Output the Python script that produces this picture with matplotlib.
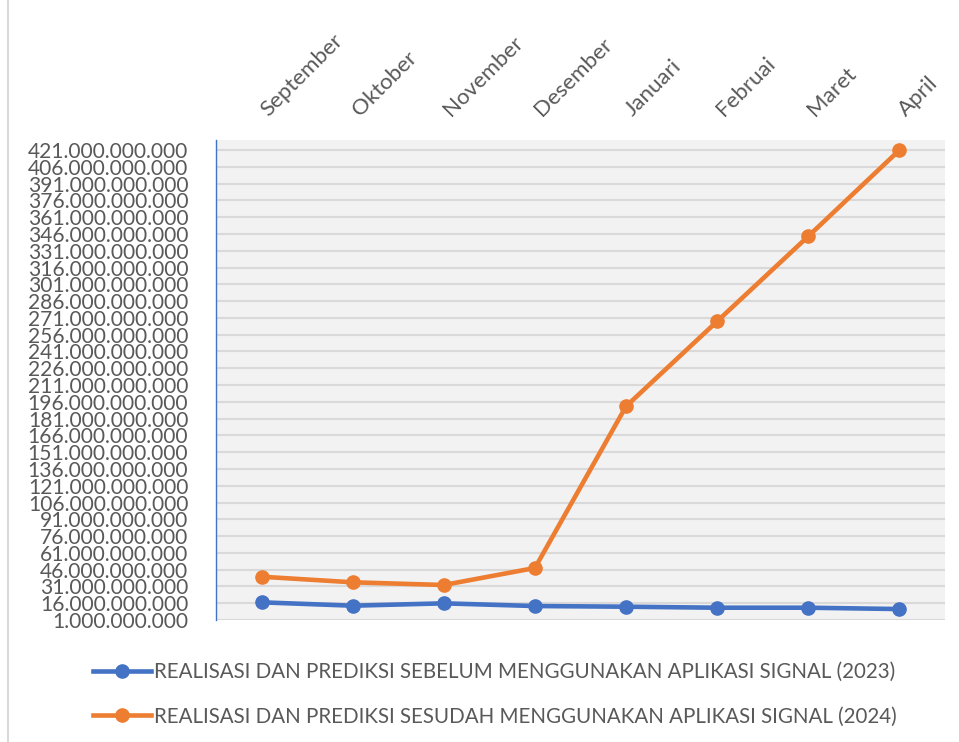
import matplotlib.pyplot as plt
import matplotlib.transforms as mtransforms
from matplotlib.lines import Line2D
from matplotlib.ticker import FuncFormatter

plt.rcParams['font.family'] = ['Lato', 'DejaVu Sans']

bulan = ["September", "Oktober", "November", "Desember",
         "Januari", "Februai", "Maret", "April"]

# nilai dalam miliar rupiah
sebelum_2023 = [16.8, 13.8, 15.9, 13.5, 12.9, 12.0, 12.0, 10.8]
sesudah_2024 = [39.7, 34.7, 32.3, 47.5, 192.0, 268.0, 344.0, 421.0]

label_2023 = "REALISASI DAN PREDIKSI SEBELUM MENGGUNAKAN APLIKASI SIGNAL (2023)"
label_2024 = "REALISASI DAN PREDIKSI SESUDAH MENGGUNAKAN APLIKASI SIGNAL (2024)"

y_ticks = [1 + 15 * i for i in range(29)]

biru = "#4472C4"
oranye = "#ED7D31"
abu = "#595959"

fig = plt.figure(figsize=(9.59, 7.42), dpi=100)
ax = fig.add_axes([0.2252, 0.1644, 0.7602, 0.6469])
ax.set_facecolor("#F2F2F2")

x = list(range(len(bulan)))
ax.plot(x, sebelum_2023, color=biru, lw=3.3, marker="o", ms=9.5, zorder=3)
ax.plot(x, sesudah_2024, color=oranye, lw=3.3, marker="o", ms=9.5, zorder=3)

ax.set_xlim(-0.5, len(bulan) - 0.5)
ax.set_ylim(1, 430)
ax.set_yticks(y_ticks)
ax.yaxis.set_major_formatter(FuncFormatter(
    lambda v, p: f"{int(round(v)) * 1000000000:,}".replace(",", ".")))
ax.grid(axis="y", color="#D9D9D9", lw=1.5)
ax.set_axisbelow(True)

# label bulan di atas, miring 45 derajat
ax.set_xticks(x)
ax.tick_params(axis="x", length=0, labelbottom=False, labeltop=False)
trans = mtransforms.blended_transform_factory(ax.transData, ax.transAxes)
trans = trans + mtransforms.ScaledTranslation(0.10, 0.20, fig.dpi_scale_trans)
for xi, nama in zip(x, bulan):
    ax.text(xi, 1, nama, transform=trans, rotation=45, ha="left",
            va="bottom", rotation_mode="anchor", fontsize=16, color=abu,
            clip_on=False)

ax.tick_params(axis="y", length=0, pad=20, labelsize=15.1, labelcolor=abu)

for s in ["top", "right", "bottom"]:
    ax.spines[s].set_visible(False)
ax.spines["left"].set_color(biru)
ax.spines["left"].set_linewidth(1)

handles = [Line2D([], [], color=biru, lw=3.3, marker="o", ms=9.5),
           Line2D([], [], color=oranye, lw=3.3, marker="o", ms=9.5)]
fig.legend(handles, [label_2023, label_2024], loc="upper left",
           bbox_to_anchor=(0.086, 0.122), frameon=False, fontsize=14.8,
           labelcolor=abu, handlelength=2.85, handletextpad=0.15,
           labelspacing=1.2, borderpad=0)

fig.add_artist(Line2D([8 / 959, 8 / 959], [0, 1], color="#D9D9D9", lw=1.5))

fig.savefig("out.png", dpi=100)
